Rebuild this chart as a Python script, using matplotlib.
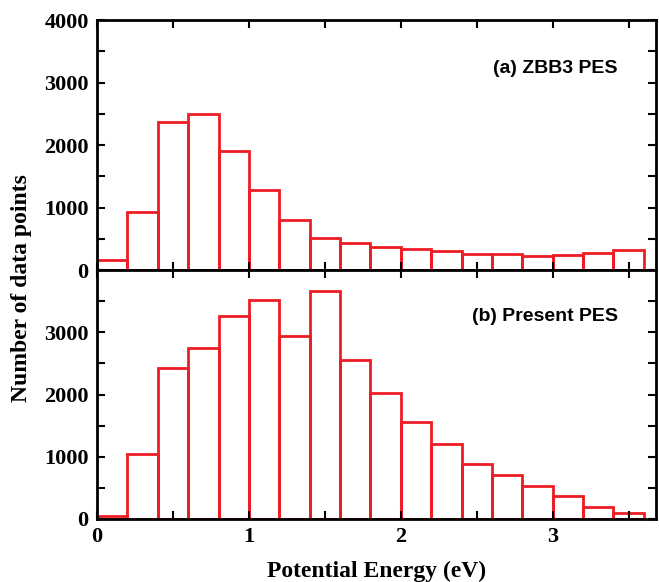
import numpy as np
import matplotlib
matplotlib.use("Agg")
import matplotlib.pyplot as plt
from matplotlib.ticker import MultipleLocator

# bin left edges (eV), width 0.2
bin_edges = np.arange(0, 3.61, 0.2)
zbb3_counts = [160, 923, 2375, 2496, 1910, 1285, 800, 512, 437, 363,
               331, 304, 256, 251, 224, 240, 267, 320]
present_counts = [50, 1040, 2433, 2746, 3268, 3515, 2934, 3660, 2557, 2019,
                  1561, 1200, 887, 700, 527, 377, 199, 97]
labels = ["(a) ZBB3 PES", "(b) Present PES"]

red = "#ee1c25"
serif = "Liberation Serif"

fig = plt.figure(figsize=(6.59, 5.82), dpi=100)
ax1 = fig.add_axes([97/659, 1 - 270/582, (656-97)/659, 250/582])
ax2 = fig.add_axes([97/659, 1 - 519/582, (656-97)/659, 249/582], sharex=ax1)

for ax, counts, lab, ly in [(ax1, zbb3_counts, labels[0], 0.808),
                            (ax2, present_counts, labels[1], 0.812)]:
    ax.bar(bin_edges[:-1], counts, width=0.2, align="edge", fill=False,
           edgecolor=red, linewidth=2)
    ax.set_xlim(0, 3.68)
    ax.set_ylim(0, 4000)
    ax.xaxis.set_major_locator(MultipleLocator(0.5))
    ax.yaxis.set_major_locator(MultipleLocator(500))
    ax.tick_params(direction="in", top=True, right=True, length=6, width=1.5,
                   labelsize=16, pad=6)
    for sp in ax.spines.values():
        sp.set_linewidth(2)
    ax.text(0.932, ly, lab, transform=ax.transAxes, ha="right", va="center",
            fontfamily="Liberation Sans", fontweight="bold", fontsize=14)

def ylab(v, pos):
    return "%d" % v if v % 1000 == 0 else ""

def xlab(v, pos):
    return "%d" % round(v) if abs(v - round(v)) < 1e-6 else ""

ax1.yaxis.set_major_formatter(plt.FuncFormatter(ylab))
ax2.yaxis.set_major_formatter(plt.FuncFormatter(lambda v, p: "" if v >= 4000 else ylab(v, p)))
ax2.xaxis.set_major_formatter(plt.FuncFormatter(xlab))
plt.setp(ax1.get_xticklabels(), visible=False)

for ax in (ax1, ax2):
    for t in ax.get_xticklabels() + ax.get_yticklabels():
        t.set_fontfamily(serif)
        t.set_fontweight("bold")

ax2.set_xlabel("Potential Energy (eV)", fontfamily=serif, fontweight="bold",
               fontsize=17, labelpad=10)
fig.text(22/659, 1 - 288/582, "Number of data points", rotation=90,
         ha="center", va="center", fontfamily=serif, fontweight="bold",
         fontsize=17)

fig.savefig("out.png", dpi=100)
